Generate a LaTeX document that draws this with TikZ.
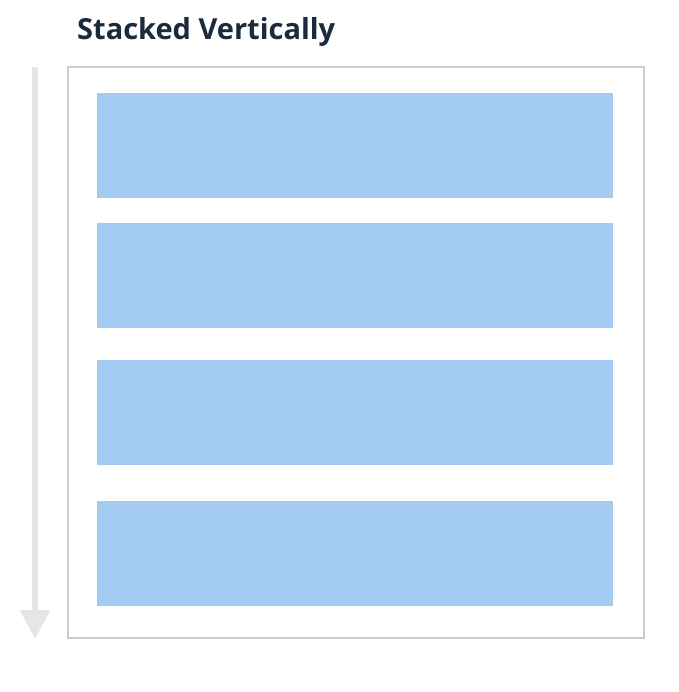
\documentclass[tikz,border=0pt]{standalone}
\usepackage{fontspec}
\setmainfont{Open Sans}
\usetikzlibrary{arrows.meta,positioning}
\definecolor{titleblue}{HTML}{1B2A3C}
\definecolor{barblue}{HTML}{A3CBF2}
\definecolor{framegray}{HTML}{CCCCCC}
\definecolor{arrowgray}{HTML}{E6E6E6}
\begin{document}
\begin{tikzpicture}[
			x=1pt, y=-1pt,
			frame/.style={rectangle, draw=framegray, line width=2pt, minimum width=576pt, minimum height=571pt, inner sep=0pt},
			bar/.style={rectangle, fill=barblue, minimum width=516pt, minimum height=105pt, inner sep=0pt},
			flow/.style={-{Triangle[length=29pt, width=29pt]}, draw=arrowgray, line width=6pt},
			heading/.style={font=\fontsize{29}{33}\selectfont\bfseries, text=titleblue, inner sep=0pt}
		]
		\useasboundingbox (0,0) rectangle (678,692);
		% Title
		\node[heading, anchor=base west] (title) at (77,39.5) {Stacked Vertically};
		% Frame and bars
		\node[frame] (frame) at (356,352.5) {};
		\node[bar] (bar1) at (355,145.5) {};
		\node[bar] (bar2) at (355,275.5) {};
		\node[bar] (bar3) at (355,412) {};
		\node[bar] (bar4) at (355,553) {};
		% Arrow
		\coordinate (top) at (35,67);
		\coordinate (bottom) at (35,639);
		\draw[flow] (top) -- (bottom);
	\end{tikzpicture}
\end{document}
